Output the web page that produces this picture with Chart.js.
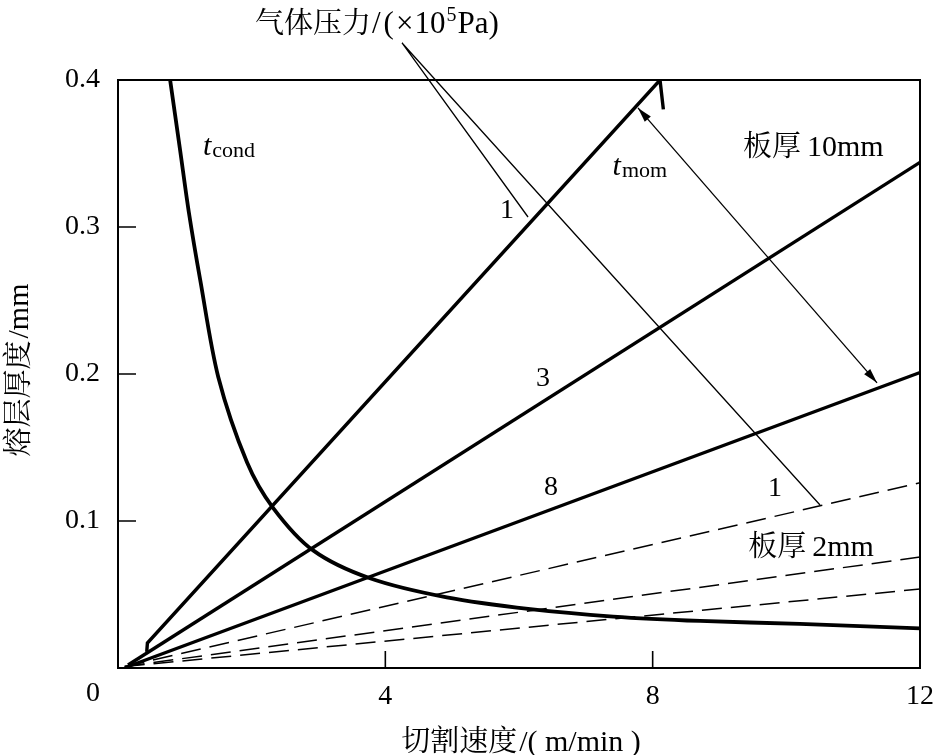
<!DOCTYPE html>
<html><head><meta charset="utf-8">
<script src="https://cdn.jsdelivr.net/npm/chart.js@4"></script>
<style>html,body{margin:0;padding:0;background:#fff}canvas{display:block}</style>
</head><body>
<canvas id="c" width="938" height="755"></canvas>
<script>
// ---- data ----
const xTickValues = [0, 4, 8, 12];
const yTickValues = [0.1, 0.2, 0.3, 0.4];

// t_cond curve
const tCondX = [0.78, 0.93, 1.06, 1.23, 1.50, 1.93, 2.32, 2.92, 3.77, 4.92, 6.17, 7.41, 8.71, 10.20, 12.0];
const tCondY = [0.400, 0.352, 0.310, 0.264, 0.198, 0.140, 0.109, 0.080, 0.061, 0.048, 0.040, 0.035, 0.032, 0.030, 0.027];

// plate 10 mm, gas pressure 1 / 3 / 8 (x10^5 Pa)
const p10_1X = [0.43, 0.44, 8.11, 8.16];
const p10_1Y = [0.011, 0.017, 0.400, 0.380];
const p10_3X = [0.15, 12];
const p10_3Y = [0.002, 0.344];
const p10_8X = [0.15, 12];
const p10_8Y = [0.001, 0.201];

// plate 2 mm, gas pressure 1 / 3 / 8 (dashed)
const p2_1X = [0.10, 12];
const p2_1Y = [0.001, 0.126];
const p2_3X = [0.10, 12];
const p2_3Y = [0.001, 0.0755];
const p2_8X = [0.10, 12];
const p2_8Y = [0.001, 0.0537];

const pts = (xs, ys) => xs.map((x, i) => ({x, y: ys[i]}));

const SERIF = '"Liberation Serif","Times New Roman","Noto Serif CJK SC","Noto Sans CJK SC",serif';
const CJK = '"Noto Serif CJK SC","Noto Sans CJK SC",serif';
Chart.defaults.font.family = SERIF;
Chart.defaults.color = '#000';

// annotation anchors (data units)
const leaderFrom = {x: 4.25, y: 0.4252};
const leaderToA = {x: 6.135, y: 0.3068};
const leaderToB = {x: 10.504, y: 0.1109};
const arrowA = {x: 7.78, y: 0.381};
const arrowB = {x: 11.357, y: 0.194};

const deco = {
  id: 'deco',
  afterDatasetsDraw(chart) {
    const {ctx, chartArea: a, scales: {x, y}} = chart;
    const px = v => x.getPixelForValue(v), py = v => y.getPixelForValue(v);
    ctx.save();
    // frame
    ctx.strokeStyle = '#000'; ctx.lineWidth = 2;
    ctx.strokeRect(a.left, a.top, a.right - a.left, a.bottom - a.top);
    // inward ticks
    ctx.lineWidth = 1.6;
    ctx.beginPath();
    [0.1, 0.2, 0.3].forEach(v => { ctx.moveTo(a.left, py(v)); ctx.lineTo(a.left + 18, py(v)); });
    [4, 8].forEach(v => { ctx.moveTo(px(v), a.bottom); ctx.lineTo(px(v), a.bottom - 17); });
    ctx.stroke();
    // leader lines
    ctx.lineWidth = 1.3;
    ctx.beginPath();
    ctx.moveTo(px(leaderFrom.x), py(leaderFrom.y)); ctx.lineTo(px(leaderToA.x), py(leaderToA.y));
    ctx.moveTo(px(leaderFrom.x), py(leaderFrom.y)); ctx.lineTo(px(leaderToB.x), py(leaderToB.y));
    ctx.stroke();
    // double arrow
    const ax = px(arrowA.x), ay = py(arrowA.y), bx = px(arrowB.x), by = py(arrowB.y);
    ctx.beginPath(); ctx.moveTo(ax, ay); ctx.lineTo(bx, by); ctx.stroke();
    const head = (tx, ty, fx, fy) => {
      const ang = Math.atan2(ty - fy, tx - fx), L = 15, W = 4;
      ctx.beginPath();
      ctx.moveTo(tx, ty);
      ctx.lineTo(tx - L * Math.cos(ang) + W * Math.sin(ang), ty - L * Math.sin(ang) - W * Math.cos(ang));
      ctx.lineTo(tx - L * Math.cos(ang) - W * Math.sin(ang), ty - L * Math.sin(ang) + W * Math.cos(ang));
      ctx.closePath(); ctx.fill();
    };
    ctx.fillStyle = '#000';
    head(ax, ay, bx, by); head(bx, by, ax, ay);

    // texts
    ctx.textBaseline = 'alphabetic';
    const txt = (s, vx, vy, font) => { ctx.font = font; ctx.fillText(s, px(vx), py(vy)); };
    ctx.textAlign = 'center';
    txt('1', 5.82, 0.306, '28px ' + SERIF);
    txt('3', 6.36, 0.192, '28px ' + SERIF);
    txt('8', 6.48, 0.1177, '28px ' + SERIF);
    txt('1', 9.83, 0.117, '28px ' + SERIF);
    ctx.textAlign = 'left';
    // mixed CJK + latin labels
    const mixed = (parts, sx, sy) => {
      parts.forEach(([s, font, gap, dy]) => {
        ctx.font = font; ctx.fillText(s, sx, sy + (dy || 0));
        sx += ctx.measureText(s).width + (gap || 0);
      });
    };
    mixed([['板厚', '29px ' + CJK, 6], ['10mm', '30px ' + SERIF]], px(9.35), py(0.348));
    mixed([['板厚', '29px ' + CJK, 6], ['2mm', '30px ' + SERIF]], px(9.43), py(0.0765));
    // t_cond, t_mom
    mixed([['t', 'italic 30px ' + SERIF, 1], ['cond', '22px ' + SERIF, 0, 2]], px(1.27), py(0.349));
    mixed([['t', 'italic 30px ' + SERIF, 1], ['mom', '22px ' + SERIF, 0, 2]], px(7.40), py(0.3354));
    // top title with superscript
    mixed([['气体压力', '29px ' + CJK, 1], ['/', '31px ' + SERIF, 3], ['(', '31px ' + SERIF, 2],
           ['×', '31px ' + SERIF, 1], ['10', '31px ' + SERIF, 1], ['5', '20px ' + SERIF, 1, -12],
           ['Pa)', '31px ' + SERIF]], px(2.05), py(0.432));
    // origin label
    ctx.font = '28px ' + SERIF;
    ctx.textAlign = 'right'; ctx.textBaseline = 'middle';
    ctx.fillText('0', a.left - 18, a.bottom + 26);
    // axis titles
    ctx.textBaseline = 'alphabetic'; ctx.textAlign = 'left';
    ctx.font = '29px ' + CJK;
    let w1 = ctx.measureText('切割速度').width + 2;
    ctx.font = '30px ' + SERIF;
    let w2 = ctx.measureText('/( m/min )').width;
    let sx0 = (a.left + a.right) / 2 + 2 - (w1 + w2) / 2;
    mixed([['切割速度', '29px ' + CJK, 2], ['/( m/min )', '30px ' + SERIF]], sx0, 751);
    ctx.translate(28, 370);
    ctx.rotate(-Math.PI / 2);
    ctx.font = '29px ' + CJK;
    w1 = ctx.measureText('熔层厚度').width + 2;
    ctx.font = '30px ' + SERIF;
    w2 = ctx.measureText('/mm').width;
    mixed([['熔层厚度', '29px ' + CJK, 2], ['/mm', '30px ' + SERIF]], -(w1 + w2) / 2, 0);
    ctx.restore();
  }
};

const solid = (data, w, smooth) => ({
  data, borderColor: '#000', borderWidth: w, pointRadius: 0, fill: false,
  tension: smooth ? 0.3 : 0, cubicInterpolationMode: 'default'
});
const dashed = data => ({
  data, borderColor: '#000', borderWidth: 1.5, borderDash: [20, 9], pointRadius: 0, fill: false, tension: 0
});

new Chart(document.getElementById('c'), {
  type: 'line',
  data: {
    datasets: [
      solid(pts(tCondX, tCondY), 3.8, true),
      solid(pts(p10_1X, p10_1Y), 3.4),
      solid(pts(p10_3X, p10_3Y), 3.4),
      solid(pts(p10_8X, p10_8Y), 3.2),
      dashed(pts(p2_1X, p2_1Y)),
      dashed(pts(p2_3X, p2_3Y)),
      dashed(pts(p2_8X, p2_8Y))
    ]
  },
  options: {
    responsive: false, animation: false, devicePixelRatio: 1,
    layout: {padding: {left: 0, top: 80, right: 18, bottom: 0}},
    plugins: {legend: {display: false}, tooltip: {enabled: false}},
    scales: {
      x: {
        type: 'linear', min: 0, max: 12,
        afterBuildTicks: s => { s.ticks = xTickValues.map(v => ({value: v})); },
        ticks: {font: {size: 28}, color: '#000', padding: 4, maxRotation: 0, autoSkip: false,
                callback: v => v === 0 ? '' : String(v)},
        grid: {display: false}, border: {display: false},
        afterFit: s => { s.height = 87; s.paddingLeft = 0; s.paddingRight = 0; }
      },
      y: {
        type: 'linear', min: 0, max: 0.4,
        afterBuildTicks: s => { s.ticks = yTickValues.map(v => ({value: v})); },
        ticks: {font: {size: 28}, color: '#000', padding: 10, autoSkip: false,
                callback: v => v.toFixed(1)},
        grid: {display: false}, border: {display: false},
        afterFit: s => { s.width = 118; s.paddingTop = 0; s.paddingBottom = 0; }
      }
    }
  },
  plugins: [deco]
});
</script>
</body></html>
